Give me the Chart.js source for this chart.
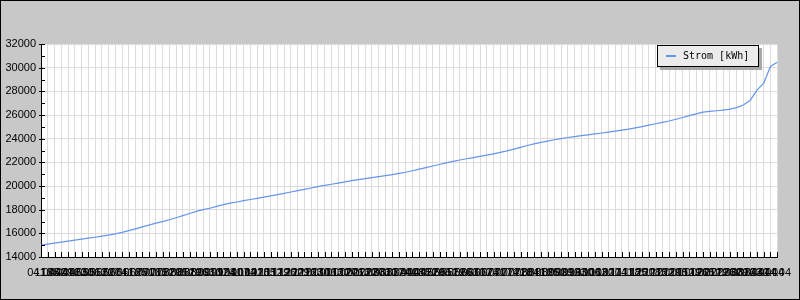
<!DOCTYPE html>
<html>
<head>
<meta charset="utf-8">
<script src="https://cdn.jsdelivr.net/npm/chart.js@4"></script>
<style>
    body { margin: 0; background: #c8c8c8; }
    #wrap { width: 800px; height: 300px; }
</style>
</head>
<body>
<div id="wrap"><canvas id="stromChart" width="800" height="300"></canvas></div>
<script>
// Ablesedaten
const labels = [
    '04.04', '11.04', '18.04', '25.04', '02.05', '09.05', '16.05', '23.05', '30.05', '06.06',
    '13.06', '20.06', '27.06', '04.07', '11.07', '18.07', '25.07', '01.08', '08.08', '15.08',
    '22.08', '29.08', '05.09', '12.09', '19.09', '26.09', '03.10', '10.10', '17.10', '24.10',
    '31.10', '07.11', '14.11', '21.11', '28.11', '05.12', '12.12', '19.12', '26.12', '02.01',
    '09.01', '16.01', '23.01', '30.01', '06.02', '13.02', '20.02', '27.02', '06.03', '13.03',
    '20.03', '27.03', '03.04', '10.04', '17.04', '24.04', '01.05', '08.05', '15.05', '22.05',
    '29.05', '05.06', '12.06', '19.06', '26.06', '03.07', '10.07', '17.07', '24.07', '31.07',
    '07.08', '14.08', '21.08', '28.08', '04.09', '11.09', '18.09', '25.09', '02.10', '09.10',
    '16.10', '23.10', '30.10', '06.11', '13.11', '20.11', '27.11', '04.12', '11.12', '18.12',
    '25.12', '01.01', '08.01', '15.01', '22.01', '29.01', '05.02', '12.02', '19.02', '26.02',
    '05.03', '12.03', '19.03', '26.03', '02.04', '09.04', '16.04', '23.04', '30.04', '14.04'
];

const strom = [
    15000, 15090, 15170, 15250, 15340, 15420, 15510, 15590, 15670, 15760,
    15850, 15950, 16080, 16230, 16380, 16540, 16700, 16860, 16990, 17150,
    17320, 17500, 17680, 17850, 18000, 18120, 18280, 18420, 18550, 18650,
    18760, 18860, 18960, 19060, 19170, 19270, 19380, 19490, 19610, 19720,
    19830, 19940, 20050, 20150, 20250, 20350, 20450, 20540, 20620, 20700,
    20790, 20870, 20960, 21060, 21160, 21290, 21430, 21560, 21690, 21820,
    21950, 22080, 22200, 22300, 22400, 22510, 22610, 22720, 22840, 22970,
    23120, 23270, 23420, 23560, 23680, 23790, 23910, 24010, 24100, 24170,
    24250, 24320, 24400, 24480, 24560, 24640, 24720, 24800, 24910, 25020,
    25140, 25260, 25380, 25490, 25640, 25790, 25950, 26100, 26240, 26300,
    26360, 26420, 26490, 26620, 26850, 27250, 28100, 28700, 30100, 30450
];

const yMin = 14000;
const yMax = 32000;
const yStep = 1000;

// Hintergrund, Rahmen, Ticks nach innen, Legende mit Schatten
const chartDeco = {
    id: 'chartDeco',
    beforeDraw(chart) {
        const ctx = chart.ctx;
        const a = chart.chartArea;
        ctx.save();
        ctx.fillStyle = '#c8c8c8';
        ctx.fillRect(0, 0, chart.width, chart.height);
        ctx.strokeStyle = '#000';
        ctx.lineWidth = 1;
        ctx.strokeRect(0.5, 0.5, chart.width - 1, chart.height - 1);
        ctx.fillStyle = '#fff';
        ctx.fillRect(a.left, a.top, a.right - a.left, a.bottom - a.top);
        ctx.restore();
    },
    afterDraw(chart) {
        const ctx = chart.ctx;
        const a = chart.chartArea;
        const xs = chart.scales.x;
        const ys = chart.scales.y;
        ctx.save();
        ctx.strokeStyle = '#000';
        ctx.lineWidth = 1;
        ctx.beginPath();
        for (let i = 0; i < labels.length; i++) {
            const px = Math.round(xs.getPixelForValue(i)) + 0.5;
            ctx.moveTo(px, a.bottom);
            ctx.lineTo(px, a.bottom - 5);
        }
        for (let v = yMin; v <= yMax; v += yStep) {
            const py = Math.round(ys.getPixelForValue(v)) + 0.5;
            ctx.moveTo(a.left - (v % 2000 === 0 ? 2 : 0), py);
            ctx.lineTo(a.left + 4, py);
        }
        ctx.stroke();

        // Legende
        const bx = 657, by = 45, bw = 102, bh = 22;
        ctx.fillStyle = '#a8a8a8';
        ctx.fillRect(bx + 3, by + 3, bw, bh);
        ctx.fillStyle = '#ececec';
        ctx.fillRect(bx, by, bw, bh);
        ctx.strokeStyle = '#000';
        ctx.strokeRect(bx + 0.5, by + 0.5, bw - 1, bh - 1);
        const ds = chart.data.datasets[0];
        ctx.strokeStyle = ds.borderColor;
        ctx.lineWidth = 2;
        ctx.beginPath();
        ctx.moveTo(bx + 9, by + 11);
        ctx.lineTo(bx + 19, by + 11);
        ctx.stroke();
        ctx.fillStyle = '#000';
        ctx.font = '10px "DejaVu Sans Mono"';
        ctx.textBaseline = 'middle';
        ctx.fillText(ds.label, bx + 26, by + 11);
        ctx.restore();
    }
};

const ctx = document.getElementById('stromChart').getContext('2d');
new Chart(ctx, {
    type: 'line',
    data: {
        labels: labels,
        datasets: [{
            label: 'Strom [kWh]',
            data: strom,
            borderColor: 'rgb(100, 149, 237)',
            borderWidth: 1.2,
            pointRadius: 0,
            fill: false,
            tension: 0
        }]
    },
    options: {
        responsive: false,
        animation: false,
        layout: {
            padding: { top: 44, right: 19, left: 0, bottom: 0 }
        },
        plugins: {
            legend: { display: false },
            tooltip: { enabled: false }
        },
        scales: {
            x: {
                offset: false,
                grid: { color: '#dcdcdc', drawTicks: false },
                border: { color: '#000' },
                ticks: {
                    autoSkip: false,
                    maxRotation: 0,
                    minRotation: 0,
                    padding: 9,
                    color: '#000',
                    font: { family: 'Liberation Sans', size: 11 }
                },
                afterFit(scale) { scale.height = 43; }
            },
            y: {
                min: yMin,
                max: yMax,
                grid: {
                    color: c => (c.tick && c.tick.value % 2000 === 0) ? '#dcdcdc' : 'rgba(0,0,0,0)',
                    drawTicks: false
                },
                border: { color: '#000' },
                ticks: {
                    stepSize: yStep,
                    padding: 5,
                    color: '#000',
                    font: { family: 'Liberation Sans', size: 11 },
                    callback: v => (v % 2000 === 0 ? String(v) : '')
                },
                afterFit(scale) { scale.width = 41; }
            }
        }
    },
    plugins: [chartDeco]
});
</script>
</body>
</html>
